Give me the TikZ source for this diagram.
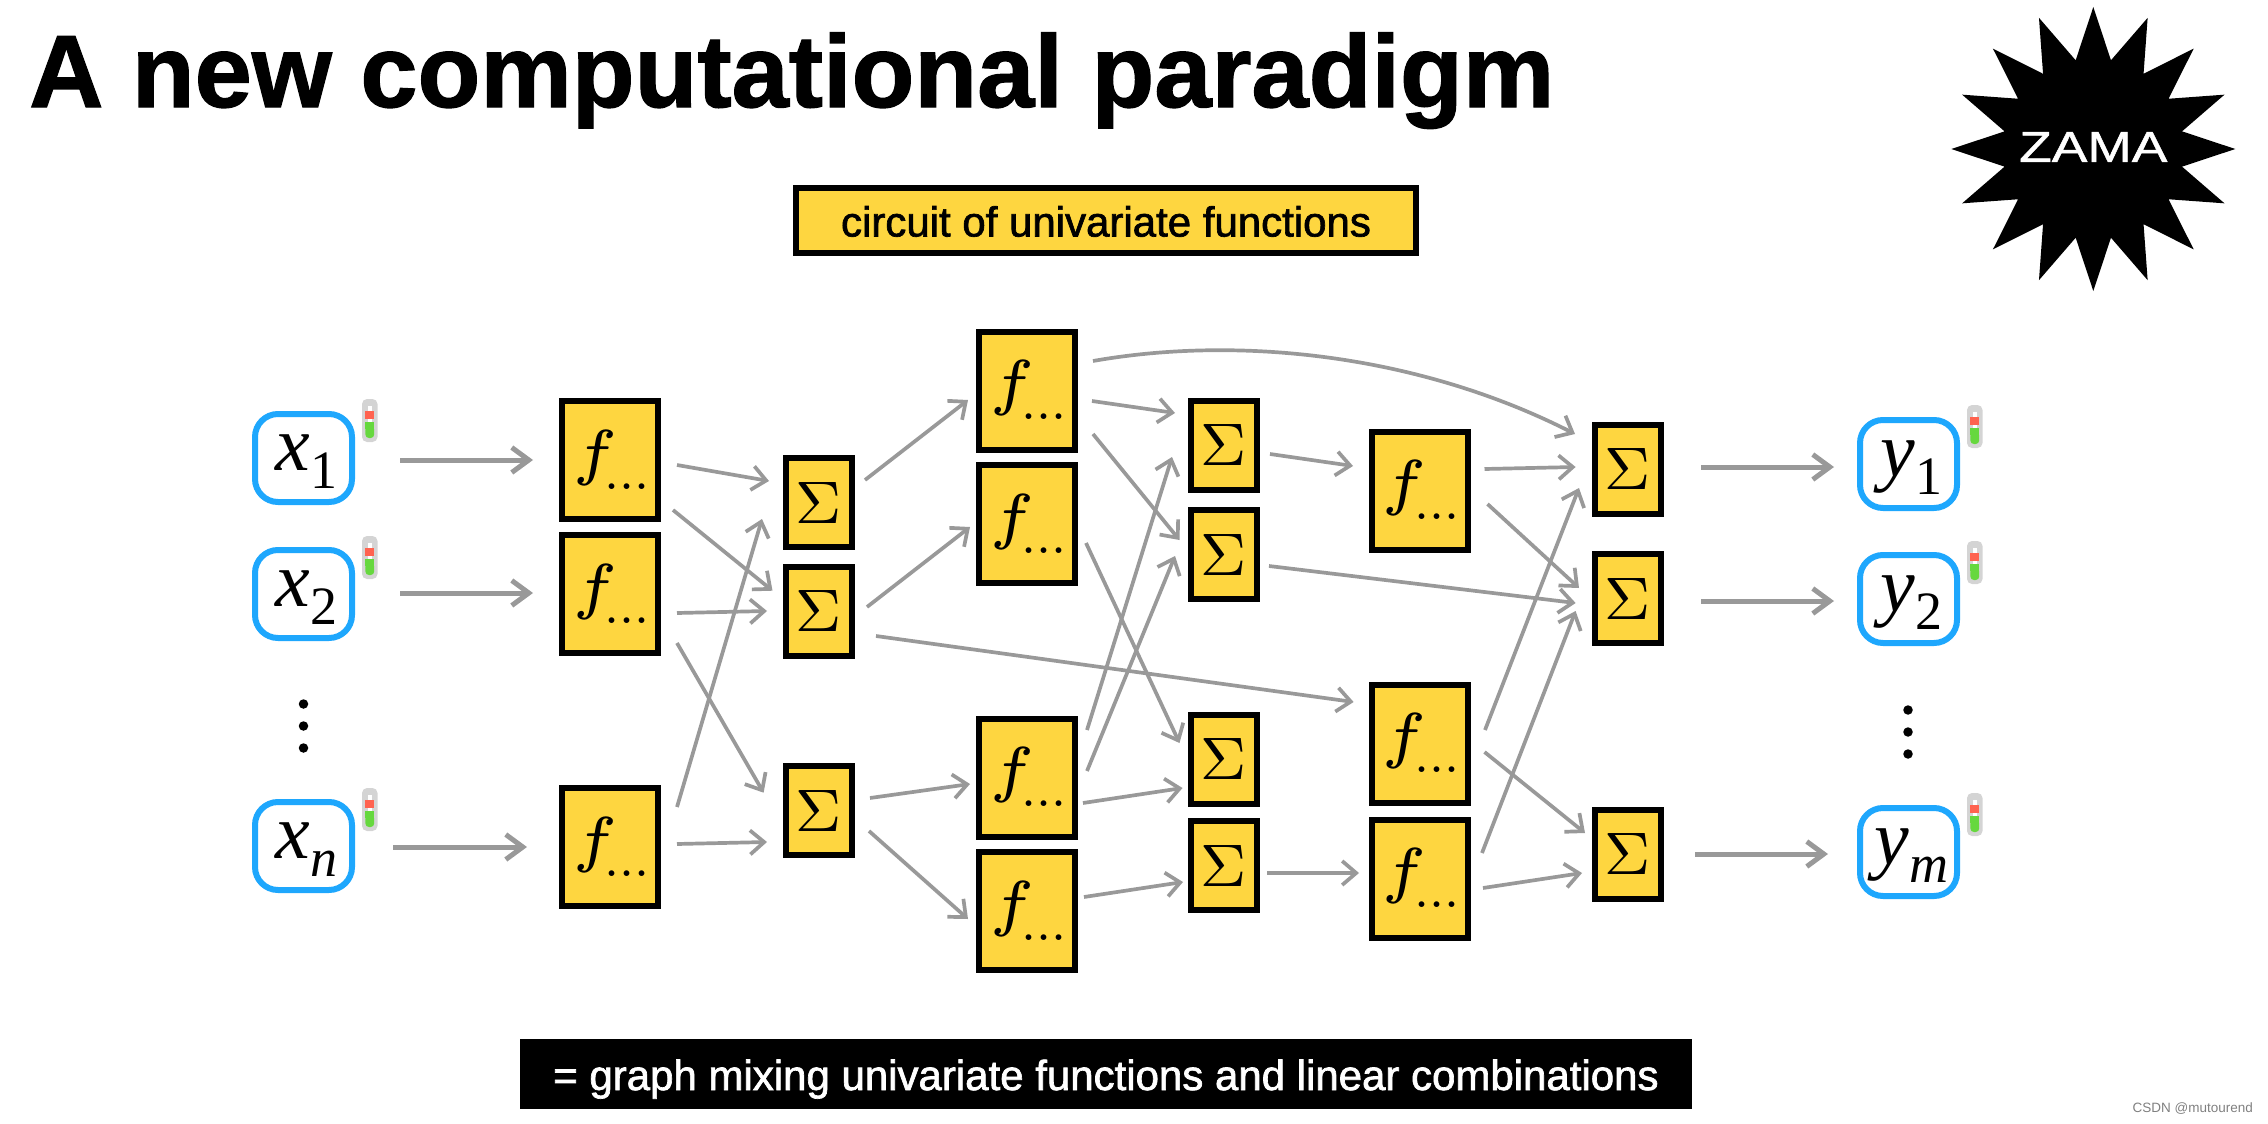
\RequirePackage{fix-cm}
\documentclass[tikz,border=0pt]{standalone}
\usepackage{fontspec}
\setmainfont{Liberation Sans}
\newfontfamily\titlefont[BoldFeatures={FakeBold=1.2}]{Liberation Sans}
\newfontfamily\zamafont[FakeStretch=1.24,FakeBold=1.2]{Liberation Sans}
\newfontfamily\medfont[FakeBold=1.6]{Liberation Sans}
\newfontfamily\varfont{Liberation Serif}
\font\fglyphfont=cmmi5 at 62pt
\font\sigmaglyphfont=cmr8 at 60pt
\font\fdotsfont=cmr10 at 54pt
\usetikzlibrary{calc,arrows.meta,shapes.geometric}
\definecolor{fheyellow}{HTML}{FED640}
\definecolor{fheblue}{HTML}{1EA7FD}
\definecolor{fhegrey}{HTML}{999999}
\definecolor{fhered}{HTML}{FF6350}
\definecolor{fhegreen}{HTML}{66D83E}
\tikzset{
  x=1pt,y=-1pt,
  fbox/.style={draw=black,line width=6pt,fill=fheyellow,minimum width=96pt,minimum height=118pt,inner sep=0pt,text height=36pt,text depth=10pt},
  sbox/.style={draw=black,line width=6pt,fill=fheyellow,minimum width=66pt,minimum height=89pt,inner sep=0pt,text height=46pt,text depth=5pt},
  varbox/.style={draw=fheblue,line width=6pt,fill=white,rounded corners=23pt,minimum width=97pt,minimum height=88pt,inner sep=0pt,text height=35pt,text depth=10pt,font=\fontsize{78}{78}\selectfont\varfont},
  barbox/.style={inner sep=0pt,text height=40pt,text depth=8pt,font=\fontsize{42}{42}\selectfont\medfont},
  conn/.style={draw=fhegrey,line width=3.7pt,-{Straight Barb[length=14pt,width=24pt]}},
  bigconn/.style={draw=fhegrey,line width=5pt,-{Straight Barb[length=17pt,width=25pt]}},
  dotnode/.style={circle,fill=black,minimum size=9.5pt,inner sep=0pt},
  thermo/.pic={
    \fill[fill=black!17,rounded corners=5pt] (0,0) rectangle (15.5,43);
    \fill[white] (5.5,6.5) rectangle (9.8,37);
    \fill[fhered] (3.4,12.3) rectangle (12.2,20);
    \fill[fhegreen,rounded corners=3.5pt] (3.4,27) rectangle (12.2,39);
    \fill[fhegreen] (3.4,23.3) rectangle (12.2,30);
  }
}
\newcommand{\fdots}{$\textfont1=\fglyphfont f$\kern-15pt\raisebox{-16pt}{\fdotsfont ...}}
\newcommand{\sumglyph}{{\sigmaglyphfont\char6}}
\newcommand{\varsub}[2]{\kern6pt{\itshape #1}\raisebox{-18pt}{\fontsize{54}{54}\selectfont #2}}
\begin{document}
\begin{tikzpicture}
\useasboundingbox (0,0) rectangle (2268,1124);
\node[anchor=base west,inner sep=0pt,font=\fontsize{102.8}{103}\selectfont\titlefont\bfseries] (title) at (29,107) {A new computational paradigm};
\node[star,star points=16,star point ratio=1.57,fill=black,minimum size=284pt,inner sep=0pt,outer sep=0pt] (zama) at (2093.3,149) {};
\node[text=white,inner sep=0pt,font=\fontsize{43}{43}\selectfont\zamafont] (zamatext) at (2093.3,147) {ZAMA};
\node[barbox,draw=black,line width=6pt,fill=fheyellow,minimum width=620pt,minimum height=65pt] (banner) at (1106,220.5) {circuit of univariate functions};
\node[barbox,fill=black,text=white,minimum width=1172pt,minimum height=70pt] (footer) at (1106,1074) {= graph mixing univariate functions and linear combinations};
\node[text=gray,anchor=east,inner sep=0pt,font=\fontsize{13.5}{13.5}\selectfont] (credit) at (2253,1109) {CSDN @mutourend};

% inputs
\node[varbox] (x1) at (303.5,458) {\varsub{x}{1}};
\node[varbox] (x2) at (303.5,594) {\varsub{x}{2}};
\node[varbox] (xn) at (303.5,846) {\varsub{x}{\itshape n}};
\node[dotnode] (xd1) at (303.5,704) {};
\node[dotnode] (xd2) at (303.5,726) {};
\node[dotnode] (xd3) at (303.5,748) {};
\pic at (362,399) {thermo};
\pic at (362,536) {thermo};
\pic at (362,788) {thermo};

% outputs
\node[varbox] (y1) at (1908.5,464) {\varsub{y}{1}};
\node[varbox] (y2) at (1908.5,599) {\varsub{y}{2}};
\node[varbox] (ym) at (1908.5,852) {\varsub{y}{\itshape m}};
\node[dotnode] (yd1) at (1908,710) {};
\node[dotnode] (yd2) at (1908,732) {};
\node[dotnode] (yd3) at (1908,754) {};
\pic at (1967,405) {thermo};
\pic at (1967,541) {thermo};
\pic at (1967,793) {thermo};

% column boxes
\node[fbox] (f1) at (610,460) {\fdots};
\node[fbox] (f2) at (610,594) {\fdots};
\node[fbox] (fn) at (610,847) {\fdots};
\node[sbox] (s1) at (819,502.5) {\sumglyph};
\node[sbox] (s2) at (819,611) {\sumglyph};
\node[sbox] (s3) at (819,810.5) {\sumglyph};
\node[fbox] (g1) at (1027,390.5) {\fdots};
\node[fbox] (g2) at (1027,524) {\fdots};
\node[fbox] (g3) at (1027,777.5) {\fdots};
\node[fbox] (g4) at (1027,911) {\fdots};
\node[sbox] (t1) at (1223.5,445) {\sumglyph};
\node[sbox] (t2) at (1223.5,554.5) {\sumglyph};
\node[sbox] (t3) at (1223.5,759) {\sumglyph};
\node[sbox] (t4) at (1223.5,865.5) {\sumglyph};
\node[fbox] (h1) at (1419.5,490.5) {\fdots};
\node[fbox] (h2) at (1419.5,743.5) {\fdots};
\node[fbox] (h3) at (1419.5,878.5) {\fdots};
\node[sbox] (u1) at (1628,469) {\sumglyph};
\node[sbox] (u2) at (1628,598.5) {\sumglyph};
\node[sbox] (u3) at (1628,854) {\sumglyph};

% connectors
\draw[bigconn] ($(x1)+(96.5,2)$) -- ($(f1)+(-77,0)$);
\draw[bigconn] ($(x2)+(96.5,-1)$) -- ($(f2)+(-77,-1)$);
\draw[bigconn] ($(xn)+(89.5,1)$) -- ($(fn)+(-83,0)$);
\draw[conn] ($(f1)+(67,5)$) -- ($(s1)+(-50,-21.5)$);
\draw[conn] ($(f1)+(63,50)$) -- ($(s2)+(-46.5,-20.3)$);
\draw[conn] ($(f2)+(67,19)$) -- ($(s2)+(-52,0)$);
\draw[conn] ($(f2)+(67,49)$) -- ($(s3)+(-55.4,-17.8)$);
\draw[conn] ($(fn)+(67,-40)$) -- ($(s1)+(-57,16.5)$);
\draw[conn] ($(fn)+(67,-3)$) -- ($(s3)+(-52,31.5)$);
\draw[conn] ($(s1)+(46,-22.5)$) -- ($(g1)+(-59,9.5)$);
\draw[conn] ($(s2)+(48,-4)$) -- ($(g2)+(-57,3)$);
\draw[conn] ($(s2)+(57,25)$) -- ($(h2)+(-65.9,-41.5)$);
\draw[conn] ($(s3)+(51,-12.5)$) -- ($(g3)+(-57,6.5)$);
\draw[conn] ($(s3)+(50,20.5)$) -- ($(g4)+(-59,8)$);
\draw[conn] ($(g1)+(66,-29.5)$) .. controls ($(g1)+(213,-55.5)$) and ($(u1)+(-208,-114)$) .. ($(u1)+(-53,-35)$);
\draw[conn] ($(g1)+(65,10.5)$) -- ($(t1)+(-48.5,-32)$);
\draw[conn] ($(g1)+(66,43.5)$) -- ($(t2)+(-44,-14.5)$);
\draw[conn] ($(g2)+(59,19)$) -- ($(t3)+(-44,-16)$);
\draw[conn] ($(g3)+(60,-47.5)$) -- ($(t1)+(-51.5,12)$);
\draw[conn] ($(g3)+(60,-6.5)$) -- ($(t2)+(-48.5,1.5)$);
\draw[conn] ($(g3)+(56,25.5)$) -- ($(t3)+(-41,29)$);
\draw[conn] ($(g4)+(57,-14)$) -- ($(t4)+(-40.5,16.5)$);
\draw[conn] ($(t1)+(46.5,9)$) -- ($(h1)+(-66.5,-24.5)$);
\draw[conn] ($(t2)+(45.5,11.5)$) -- ($(u2)+(-52.4,4.5)$);
\draw[conn] ($(t4)+(43.5,7.5)$) -- ($(h3)+(-60.5,-5.5)$);
\draw[conn] ($(h1)+(65,-21.5)$) -- ($(u1)+(-52.4,-2)$);
\draw[conn] ($(h1)+(68,13.5)$) -- ($(u2)+(-49,-10.5)$);
\draw[conn] ($(h2)+(65.5,-13.5)$) -- ($(u1)+(-49,19)$);
\draw[conn] ($(h3)+(62.5,-25.5)$) -- ($(u2)+(-52.4,12.5)$);
\draw[conn] ($(h2)+(65,8.5)$) -- ($(u3)+(-43,-21)$);
\draw[conn] ($(h3)+(63.5,9.5)$) -- ($(u3)+(-46,19)$);
\draw[bigconn] ($(u1)+(73,-2)$) -- ($(y1)+(-74.5,3)$);
\draw[bigconn] ($(u2)+(73,2.5)$) -- ($(y2)+(-74.5,2)$);
\draw[bigconn] ($(u3)+(67,0)$) -- ($(ym)+(-80.5,2)$);
\end{tikzpicture}
\end{document}
